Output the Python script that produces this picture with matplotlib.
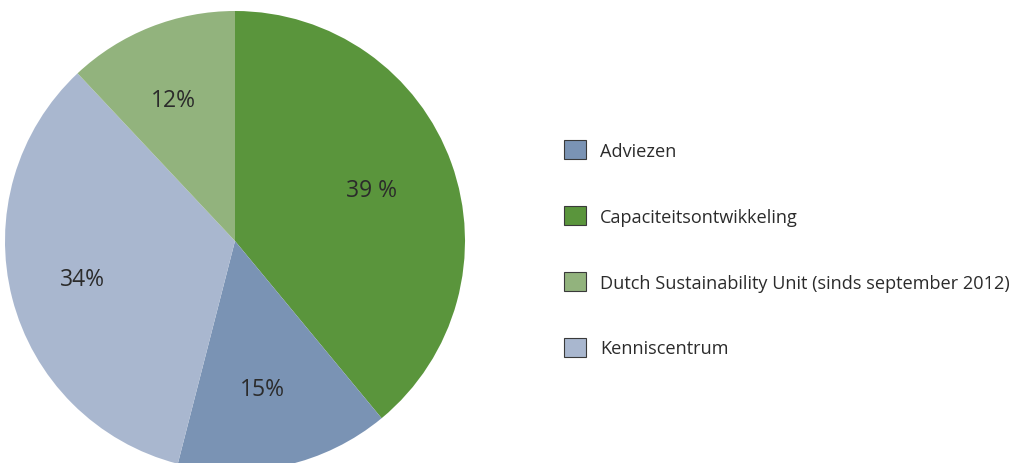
import matplotlib
matplotlib.use("Agg")
import matplotlib.pyplot as plt
import matplotlib.transforms as mtransforms
from matplotlib.patches import Patch

# slices in drawing order (clockwise from the top)
categories = ["Capaciteitsontwikkeling", "Adviezen", "Kenniscentrum",
              "Dutch Sustainability Unit (sinds september 2012)"]
shares = [39, 15, 34, 12]
pct_labels = ["39 %", "15%", "34%", "12%"]
colors = ["#5a953c", "#7a93b4", "#a9b7cf", "#92b37d"]

legend_order = ["Adviezen", "Capaciteitsontwikkeling",
                "Dutch Sustainability Unit (sinds september 2012)", "Kenniscentrum"]

plt.rcParams["font.family"] = ["Open Sans", "DejaVu Sans"]

fig = plt.figure(figsize=(10.2, 4.64), dpi=100)
ax = fig.add_axes([5 / 1020, -8 / 464, 460 / 1020, 460 / 464])

label_iter = iter(pct_labels)
wedges, texts, autotexts = ax.pie(
    shares,
    colors=colors,
    startangle=90,
    counterclock=False,
    autopct=lambda p: next(label_iter),
    pctdistance=0.66,
    wedgeprops={"linewidth": 0},
    textprops={"fontsize": 16.5, "color": "#2b2b2b"},
)
# the labels in the original sit a little left of the slice centres
shift = mtransforms.ScaledTranslation(-6 / 100, 0, fig.dpi_scale_trans)
for t in autotexts:
    t.set_transform(t.get_transform() + shift)

ax.set_xlim(-1, 1)
ax.set_ylim(-1, 1)
ax.set_aspect("equal")
ax.axis("off")

# legend in its own order
color_map = dict(zip(categories, colors))
handles = [Patch(facecolor=color_map[c], edgecolor="#3a3a3a", linewidth=0.8)
           for c in legend_order]
fig.legend(
    handles, legend_order,
    loc="upper left",
    bbox_to_anchor=(548 / 1020, 1 - 125 / 464),
    frameon=False,
    fontsize=13.1,
    labelspacing=2.55,
    handlelength=1.2,
    handleheight=1.2,
    handletextpad=0.75,
    labelcolor="#2b2b2b",
)

fig.savefig("out.png", dpi=100)
